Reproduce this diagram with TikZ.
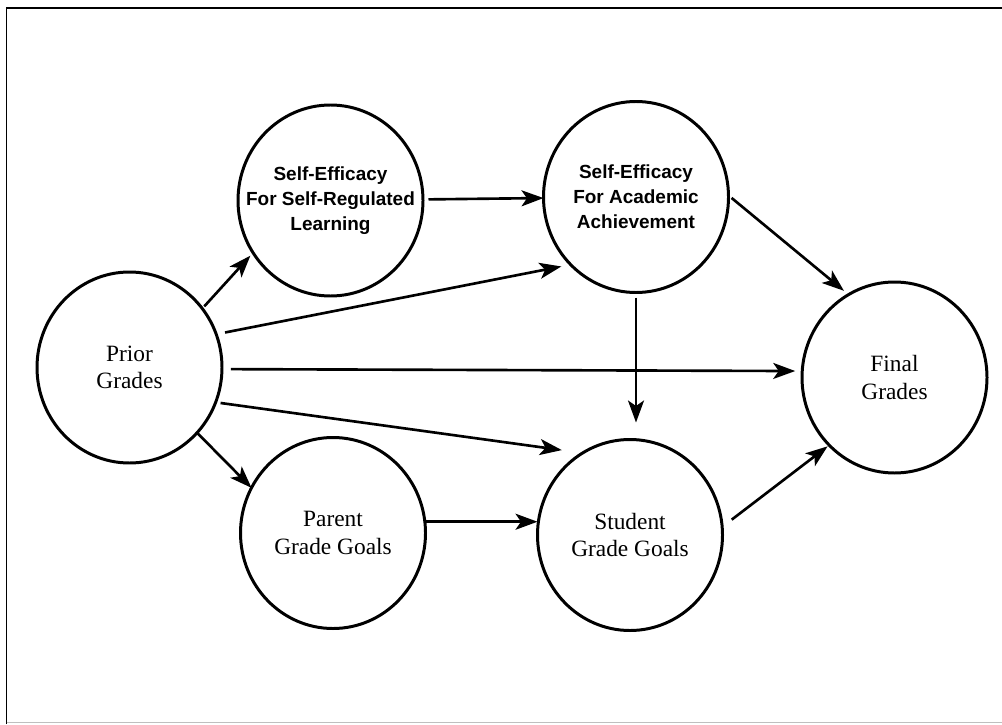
\documentclass[tikz,border=0pt]{standalone}
\usepackage{fontspec}
\setmainfont{Liberation Serif}
\newfontfamily\helv{Liberation Sans}
\usetikzlibrary{arrows.meta,shapes.geometric}

\tikzset{
  var/.style={draw, ellipse, line width=1.7pt, minimum width=3.7cm, minimum height=3.82cm,
    inner sep=-0.8cm, outer sep=0pt, align=center, font=\fontsize{13.3}{15.6}\selectfont},
  effvar/.style={var, font=\helv\bfseries\fontsize{10.8}{14.2}\selectfont},
  link/.style={line width=1.5pt, -{Stealth[length=4.4mm, width=3.2mm, inset=1.1mm]}}
}

\begin{document}
\begin{tikzpicture}

  \useasboundingbox (0,0) rectangle (20.04,14.48);

  % Frame (cut off at right and bottom)
  \draw[line width=1.1pt] (0.13,0) -- (0.13,14.32) -- (20.04,14.32);
  \draw[gray!50, line width=0.8pt] (0.13,0.03) -- (20.04,0.03);

  % Variables
  \node[var]    (prior)   at (2.59,7.13)   {Prior\\Grades};
  \node[effvar] (srl)     at (6.61,10.47)  {Self-Efficacy\\For Self-Regulated\\Learning};
  \node[effvar] (acad)    at (12.72,10.54) {Self-Efficacy\\For Academic\\Achievement};
  \node[var]    (parent)  at (6.66,3.82)   {Parent\\Grade Goals};
  \node[var]    (student) at (12.60,3.78)  {Student\\Grade Goals};
  \node[var]    (final)   at (17.89,6.93)  {Final\\Grades};

  % Paths from prior grades
  \draw[link, shorten <=0.06cm, shorten >=0.08cm] (prior.39) -- (srl.214);
  \draw[link, shorten <=0.18cm, shorten >=0.19cm] (prior.21) -- (acad.226);
  \draw[link, shorten <=0.18cm, shorten >=0.14cm] (prior.-1.5) -- (final.176.4);
  \draw[link, shorten <=0.10cm, shorten >=0.42cm] (prior.-22) -- (student.120);
  \draw[link, shorten <=0.02cm] (prior.-44) -- (parent.151);

  % Self-efficacy paths
  \draw[link, shorten <=0.11cm] (srl) -- (acad);
  \draw[link, shorten <=0.10cm, shorten >=0.34cm] (acad.south) -- (acad.south |- student.north);
  \draw[link, shorten <=0.08cm, shorten >=0.12cm] (acad.1) -- (final.119);

  % Goal paths
  \draw[link, shorten <=0.02cm] (parent.7) -- (parent.7 -| student.west);
  \draw[link, shorten <=0.24cm, shorten >=0.04cm] (student.5) -- (final.226);

\end{tikzpicture}
\end{document}
